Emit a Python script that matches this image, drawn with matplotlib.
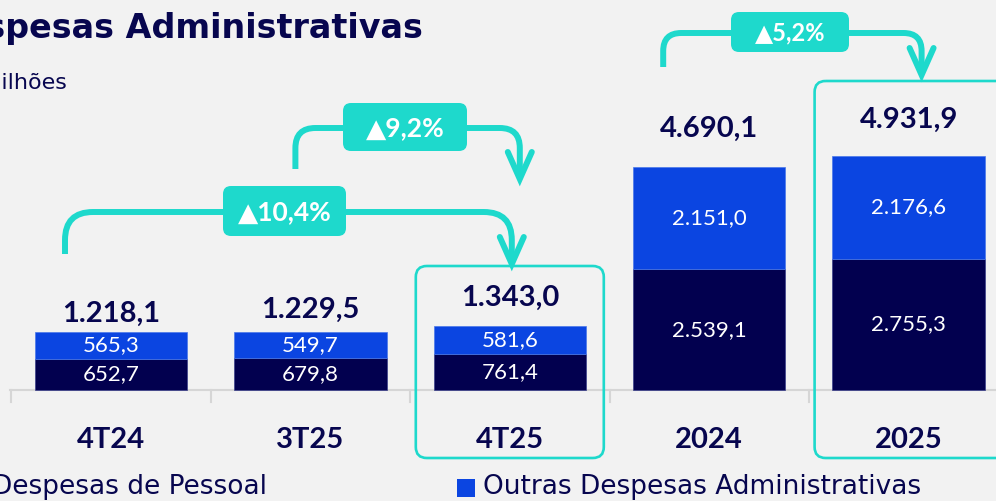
import matplotlib
matplotlib.use("Agg")
import matplotlib.pyplot as plt
from matplotlib.patches import FancyBboxPatch, Rectangle, PathPatch
from matplotlib.path import Path
from matplotlib.transforms import Affine2D

# data
categories = ["4T24", "3T25", "4T25", "2024", "2025"]
pessoal = [652.7, 679.8, 761.4, 2539.1, 2755.3]
outras = [565.3, 549.7, 581.6, 2151.0, 2176.6]
totais = [1218.1, 1229.5, 1343.0, 4690.1, 4931.9]
growth_labels = ["▲10,4%", "▲9,2%", "▲5,2%"]
growth_pairs = [(0, 2), (1, 2), (3, 4)]
highlighted = [2, 4]

NAVY = "#02004f"
BLUE = "#0b45e1"
TEAL = "#1ed9cc"
TEXT = "#07064f"
BG = "#f2f2f2"
FONT = ["Lato", "DejaVu Sans"]
WIDE = ["DejaVu Sans"]

W, H = 996, 501


def fmt(v):
    s = f"{v:,.1f}"
    return s.replace(",", "X").replace(".", ",").replace("X", ".")


fig = plt.figure(figsize=(W / 100, H / 100), dpi=100, facecolor=BG)
ax = fig.add_axes([0, 0, 1, 1])
ax.set_facecolor(BG)
ax.axis("off")

# pixel-based layout: bar i centred at 111 + 199.4*i px, baseline at 390 px
step, x0 = 199.4, 111
ppu = 0.0475  # px per unit
ax.set_xlim(-x0 / step, (W - x0) / step)
ax.set_ylim(-(H - 390) / ppu, 390 / ppu)

PX = Affine2D().scale(1 / W, -1 / H).translate(0, 1) + fig.transFigure


def cx(i):
    return x0 + step * i


x = list(range(len(categories)))
ax.bar(x, pessoal, width=0.765, color=NAVY, edgecolor="#3b3f8a", linewidth=0.5, zorder=3)
ax.bar(x, outras, bottom=pessoal, width=0.765, color=BLUE, edgecolor="#4a78ea",
       linewidth=0.5, zorder=3)

for i in x:
    ax.text(i, pessoal[i] / 2, fmt(pessoal[i]), ha="center", va="center",
            color="white", fontsize=16, family=FONT, zorder=4)
    ax.text(i, pessoal[i] + outras[i] / 2, fmt(outras[i]), ha="center", va="center",
            color="white", fontsize=16, family=FONT, zorder=4)

# totals above bars
gap_px = [10, 14, 20, 30, 28]
for i in x:
    ax.annotate(fmt(totais[i]), (i, totais[i]), xytext=(0, gap_px[i] * 0.72),
                textcoords="offset points", ha="center", va="baseline",
                fontsize=21, fontweight="bold", color=TEXT, family=FONT)

# category labels
for i in x:
    ax.text(cx(i), 448, categories[i], transform=PX, ha="center", va="baseline",
            fontsize=21, fontweight="bold", color=TEXT, family=FONT)

# axis line with ticks between categories
ax.plot([10, W], [390, 390], transform=PX, color="#d6d6d6", lw=1.5, zorder=2)
for i in range(len(categories)):
    bx = cx(i) - step / 2
    ax.plot([bx, bx], [390, 402], transform=PX, color="#d6d6d6", lw=1.5, zorder=2)

# highlight boxes (the last one runs past the right edge)
for i in highlighted:
    top = 266 if i == 2 else 81
    width = 188 if i == 2 else 220
    rect = FancyBboxPatch((cx(i) - 94, top), width, 458 - top,
                          boxstyle="round,pad=0,rounding_size=11",
                          transform=PX, fill=False, edgecolor=TEAL, lw=1.9, zorder=5)
    ax.add_patch(rect)

# growth brackets
bracket_specs = [
    # dx_start, y_bottom, y_line, dx_end, y_tip, radius, label box (cx, cy, w, h), fontsize
    (-46, 254, 212, 2, 264, 28, (284.5, 211, 123, 50), 19),
    (-15, 169, 128, 10, 179, 20, (405, 127, 124, 48), 19),
    (-46, 67, 33, 13, 75, 18, (790, 32, 118, 40), 17),
]
for (a, b), lab, spec in zip(growth_pairs, growth_labels, bracket_specs):
    dxs, yb, yl, dxe, ytip, r, box, fs = spec
    xs, xe = cx(a) + dxs, cx(b) + dxe
    verts = [(xs, yb), (xs, yl + r), (xs, yl), (xs + r, yl), (xe - r, yl),
             (xe, yl), (xe, yl + r), (xe, ytip - 4)]
    codes = [Path.MOVETO, Path.LINETO, Path.CURVE3, Path.CURVE3, Path.LINETO,
             Path.CURVE3, Path.CURVE3, Path.LINETO]
    ax.add_patch(PathPatch(Path(verts, codes), transform=PX, fill=False,
                           edgecolor=TEAL, lw=4.3, capstyle="butt", zorder=6))
    ax.plot([xe - 12, xe, xe + 12], [ytip - 27, ytip, ytip - 27], transform=PX,
            color=TEAL, lw=4.3, solid_capstyle="round", solid_joinstyle="miter", zorder=6)
    bcx, bcy, bw, bh = box
    ax.add_patch(FancyBboxPatch((bcx - bw / 2, bcy - bh / 2), bw, bh,
                                boxstyle="round,pad=0,rounding_size=8", transform=PX,
                                facecolor=TEAL, edgecolor="none", zorder=7))
    ax.text(bcx, bcy + 1, lab, transform=PX, ha="center", va="center", color="white",
            fontsize=fs, fontweight="bold", family=FONT, zorder=8)

# title, subtitle
ax.text(423, 38, "Despesas Administrativas", transform=PX, ha="right", va="baseline",
        fontsize=24, fontweight="bold", color=TEXT, family=WIDE)
ax.text(67, 89, "R$ milhões", transform=PX, ha="right", va="baseline",
        fontsize=16, color=TEXT, family=WIDE)

# legend
ax.add_patch(Rectangle((457, 479), 18, 18, transform=PX, facecolor=BLUE, edgecolor="none"))
ax.text(483, 494, "Outras Despesas Administrativas", transform=PX, ha="left",
        va="baseline", fontsize=19, color=TEXT, family=WIDE)
ax.text(267, 494, "Despesas de Pessoal", transform=PX, ha="right",
        va="baseline", fontsize=19, color=TEXT, family=WIDE)

fig.savefig("out.png", dpi=100, facecolor=BG)
